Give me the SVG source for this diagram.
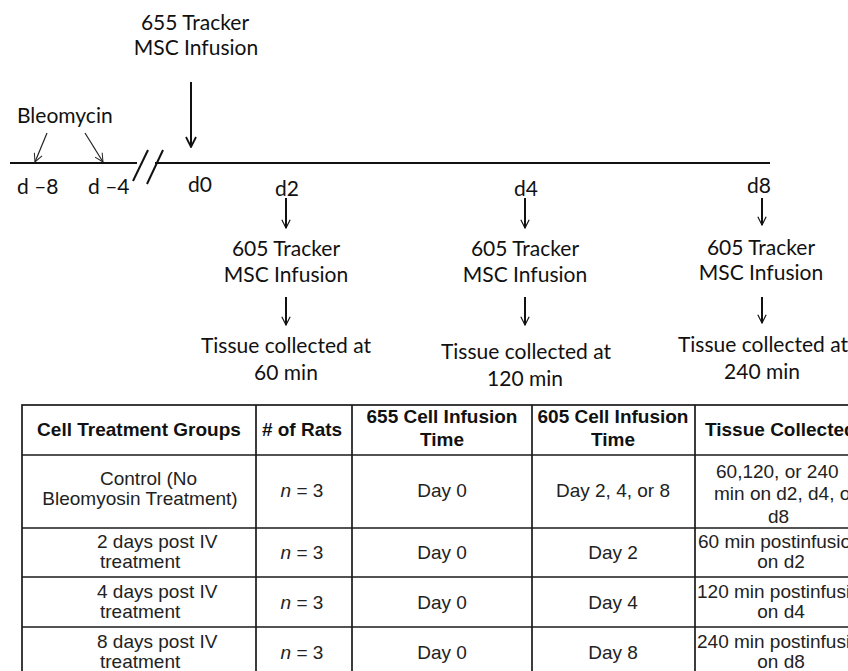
<svg xmlns="http://www.w3.org/2000/svg" width="848" height="671" viewBox="0 0 848 671">
<style>
.t{font-family:Lato,"Noto Sans",sans-serif;font-size:21px;fill:#111;}
.m{text-anchor:middle;}
.h{font-family:"Liberation Sans",Arial,sans-serif;font-size:19px;font-weight:bold;fill:#111;}
.c{font-family:"Liberation Sans",Arial,sans-serif;font-size:19px;fill:#222;}
.ln{stroke:#111;stroke-width:2;fill:none;}
.thin{stroke:#222;stroke-width:1.2;fill:none;}
.grid{stroke:#1a1a1a;stroke-width:1.7;fill:none;}
</style>
<defs>
<marker id="ah" viewBox="0 0 12 12" refX="11" refY="6" markerWidth="12" markerHeight="12" markerUnits="userSpaceOnUse" orient="auto">
<path d="M1,1 L11,6 L1,11" fill="none" stroke="#111" stroke-width="1.8"/>
</marker>
<marker id="ahs" viewBox="0 0 12 12" refX="11" refY="6" markerWidth="10" markerHeight="10" markerUnits="userSpaceOnUse" orient="auto">
<path d="M1,1 L11,6 L1,11" fill="none" stroke="#111" stroke-width="1.4"/>
</marker>
<marker id="aht" viewBox="0 0 12 12" refX="11" refY="6" markerWidth="10" markerHeight="10" markerUnits="userSpaceOnUse" orient="auto">
<path d="M1,1 L11,6 L1,11" fill="none" stroke="#222" stroke-width="1.2"/>
</marker>
</defs>

<g id="timeline">
<line class="ln" x1="10" y1="163" x2="137" y2="163"/>
<line class="ln" x1="155" y1="163" x2="770" y2="163"/>
<line class="ln" x1="133" y1="181" x2="148" y2="150"/>
<line class="ln" x1="147" y1="184" x2="163" y2="150"/>
</g>

<g id="connectors">
<line class="thin" x1="47" y1="133" x2="35" y2="162" marker-end="url(#aht)"/>
<line class="thin" x1="85" y1="133" x2="103" y2="162" marker-end="url(#aht)"/>
<line class="ln" x1="191" y1="82" x2="191" y2="147" marker-end="url(#ah)"/>
<line class="ln" x1="286" y1="198" x2="286" y2="228" marker-end="url(#ahs)"/>
<line class="ln" x1="286" y1="297" x2="286" y2="325" marker-end="url(#ahs)"/>
<line class="ln" x1="525" y1="198" x2="525" y2="228" marker-end="url(#ahs)"/>
<line class="ln" x1="525" y1="297" x2="525" y2="325" marker-end="url(#ahs)"/>
<line class="ln" x1="762" y1="198" x2="762" y2="225" marker-end="url(#ahs)"/>
<line class="ln" x1="762" y1="297" x2="762" y2="323" marker-end="url(#ahs)"/>
</g>

<g id="bleomycin"><text class="t" x="17" y="123">Bleomycin</text></g>
<g id="d-8"><text class="t" x="17" y="194">d –8</text></g>
<g id="d-4"><text class="t" x="88" y="194">d –4</text></g>
<g id="d0"><text class="t" x="188" y="192">d0</text></g>
<g id="infusion655"><text class="t m" x="195" y="30">655 Tracker</text><text class="t m" x="196" y="55">MSC Infusion</text></g>

<g id="d2"><text class="t m" x="287" y="196">d2</text></g>
<g id="infusion605-d2"><text class="t m" x="286" y="256">605 Tracker</text><text class="t m" x="286" y="282">MSC Infusion</text></g>
<g id="tissue-d2"><text class="t m" x="286" y="353">Tissue collected at</text><text class="t m" x="286" y="380">60 min</text></g>

<g id="d4"><text class="t m" x="526" y="196">d4</text></g>
<g id="infusion605-d4"><text class="t m" x="525" y="256">605 Tracker</text><text class="t m" x="525" y="282">MSC Infusion</text></g>
<g id="tissue-d4"><text class="t m" x="526" y="359">Tissue collected at</text><text class="t m" x="525" y="386">120 min</text></g>

<g id="d8"><text class="t m" x="759" y="193">d8</text></g>
<g id="infusion605-d8"><text class="t m" x="761" y="255">605 Tracker</text><text class="t m" x="761" y="280">MSC Infusion</text></g>
<g id="tissue-d8"><text class="t m" x="763" y="352">Tissue collected at</text><text class="t m" x="762" y="379">240 min</text></g>

<g id="table">
<rect class="grid" x="22" y="405" width="842" height="280"/>
<line class="grid" x1="256" y1="405" x2="256" y2="685"/>
<line class="grid" x1="352" y1="405" x2="352" y2="685"/>
<line class="grid" x1="532" y1="405" x2="532" y2="685"/>
<line class="grid" x1="695" y1="405" x2="695" y2="685"/>
<line class="grid" x1="22" y1="455" x2="864" y2="455"/>
<line class="grid" x1="22" y1="528" x2="864" y2="528"/>
<line class="grid" x1="22" y1="577" x2="864" y2="577"/>
<line class="grid" x1="22" y1="627" x2="864" y2="627"/>

<text class="h m" x="139" y="436">Cell Treatment Groups</text>
<text class="h m" x="302" y="436"># of Rats</text>
<text class="h m" x="442" y="423">655 Cell Infusion</text>
<text class="h m" x="442" y="446">Time</text>
<text class="h m" x="613" y="423">605 Cell Infusion</text>
<text class="h m" x="613" y="446">Time</text>
<text class="h" x="705" y="436">Tissue Collected</text>

<text class="c" x="100" y="485">Control (No</text>
<text class="c m" x="140" y="505">Bleomyosin Treatment)</text>
<text class="c m" x="302" y="497"><tspan font-style="italic">n</tspan> = 3</text>
<text class="c m" x="442" y="497">Day 0</text>
<text class="c m" x="613" y="497">Day 2, 4, or 8</text>
<text class="c" x="716" y="478">60,120, or 240</text>
<text class="c" x="714" y="500">min on d2, d4, or</text>
<text class="c" x="768" y="523">d8</text>

<text class="c" x="97" y="548">2 days post IV</text>
<text class="c" x="100" y="568">treatment</text>
<text class="c m" x="302" y="559"><tspan font-style="italic">n</tspan> = 3</text>
<text class="c m" x="442" y="559">Day 0</text>
<text class="c m" x="613" y="559">Day 2</text>
<text class="c" x="698" y="548">60 min postinfusion</text>
<text class="c m" x="781" y="568">on d2</text>

<text class="c" x="97" y="598">4 days post IV</text>
<text class="c" x="100" y="618">treatment</text>
<text class="c m" x="302" y="609"><tspan font-style="italic">n</tspan> = 3</text>
<text class="c m" x="442" y="609">Day 0</text>
<text class="c m" x="613" y="609">Day 4</text>
<text class="c" x="697" y="598">120 min postinfusion</text>
<text class="c m" x="781" y="618">on d4</text>

<text class="c" x="97" y="648">8 days post IV</text>
<text class="c" x="100" y="668">treatment</text>
<text class="c m" x="302" y="659"><tspan font-style="italic">n</tspan> = 3</text>
<text class="c m" x="442" y="659">Day 0</text>
<text class="c m" x="613" y="659">Day 8</text>
<text class="c" x="697" y="648">240 min postinfusion</text>
<text class="c m" x="781" y="668">on d8</text>
</g>
</svg>
